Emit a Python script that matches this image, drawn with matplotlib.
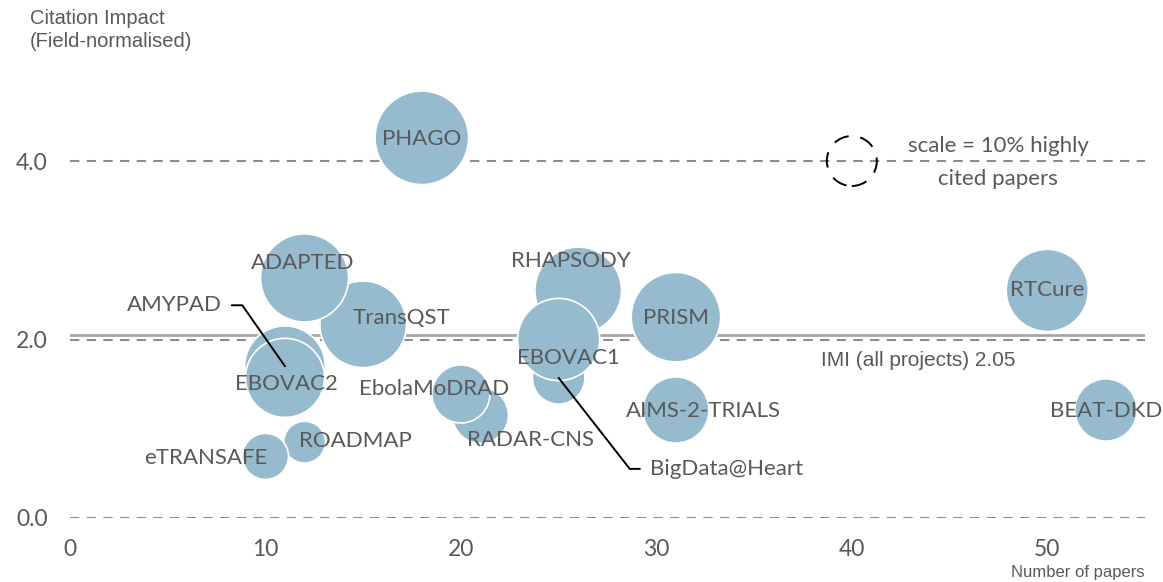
import numpy as np
import matplotlib
matplotlib.use('Agg')
import matplotlib.pyplot as plt

# projects in drawing order (later ones sit on top)
projects = ['TransQST', 'ADAPTED', 'AMYPAD', 'EBOVAC2', 'RADAR-CNS', 'EbolaMoDRAD',
            'RHAPSODY', 'BigData@Heart', 'EBOVAC1', 'ROADMAP', 'eTRANSAFE', 'PHAGO',
            'PRISM', 'AIMS-2-TRIALS', 'RTCure', 'BEAT-DKD']
papers = [15, 12, 11, 11, 21, 20, 26, 25, 25, 12, 10, 18, 31, 31, 50, 53]
impact = [2.17, 2.69, 1.70, 1.57, 1.15, 1.39, 2.55, 1.57, 2.00, 0.85, 0.69, 4.26,
          2.25, 1.21, 2.55, 1.21]
highly_cited = [30, 31, 26, 25, 12.5, 13.5, 30, 11, 27, 7, 8.5, 35, 32, 17.5, 27, 15.5]
imi_all = 2.05
scale_pct = 10

xticks = [0, 10, 20, 30, 40, 50]
yticks = [0.0, 2.0, 4.0]

# label offsets (pixels) from bubble centre
offsets = {'ADAPTED': (-2, 15), 'TransQST': (38, 6), 'EBOVAC2': (1, -6),
           'EbolaMoDRAD': (-27, 5), 'RADAR-CNS': (50, -25), 'ROADMAP': (51, 1),
           'eTRANSAFE': (-60, -2), 'RHAPSODY': (-7, 29), 'EBOVAC1': (10, -19),
           'AIMS-2-TRIALS': (28, -1), 'PHAGO': (0, -1), 'PRISM': (0, -1),
           'RTCure': (0, 0), 'BEAT-DKD': (0, -1)}

grey = '#595959'
bubble = '#97BBCE'
dpi = 100
r10 = 25  # radius in px of the 10% bubble


def size_of(pct):
    r = r10 * np.sqrt(np.asarray(pct, dtype=float) / scale_pct)
    return (2 * r * 72 / dpi) ** 2


fig = plt.figure(figsize=(11.63, 5.82), dpi=dpi)
ax = fig.add_axes([70/1163, 64/582, 1075/1163, 446.25/582])
ax.set_xlim(0, 55)
ax.set_ylim(0, 5)
for s in ax.spines.values():
    s.set_visible(False)

for yv in yticks:
    ax.axhline(yv, color='#8c8c8c', lw=1.5, ls=(0, (4.5, 3.5)), zorder=1)
ax.axhline(imi_all, color='#a6a6a6', lw=2, zorder=1)

ax.scatter(papers, impact, s=size_of(highly_cited), c=bubble, edgecolors='white',
           linewidths=1.2, zorder=2, clip_on=False)

# scale bubble
ax.scatter([40], [4.0], s=size_of([scale_pct]), facecolors='none', edgecolors='black',
           linewidths=1.4, linestyle=(0, (8, 6)), zorder=3, clip_on=False)
ax.text(47.5, 3.985, 'scale = 10% highly\ncited papers', ha='center', va='center',
        fontsize=16, family='Lato', color=grey, linespacing=1.8, zorder=4)

ax.text(43.4, 1.77, 'IMI (all projects) 2.05', ha='center', va='center',
        fontsize=15, family='Liberation Sans', color=grey)

for name, xv, yv in zip(projects, papers, impact):
    if name in offsets:
        ax.annotate(name, (xv, yv), xytext=offsets[name], textcoords='offset pixels',
                    ha='center', va='center', fontsize=16, family='Lato', color=grey,
                    zorder=5, annotation_clip=False)

i = projects.index('AMYPAD')
ax.annotate('AMYPAD', (papers[i], impact[i]), xytext=(-63, 61), textcoords='offset pixels',
            ha='right', va='center', fontsize=16, family='Lato', color=grey, zorder=5,
            arrowprops=dict(arrowstyle='-', color='black', lw=1.4, shrinkA=5, shrinkB=0,
                            connectionstyle='angle,angleA=0,angleB=125,rad=0'))
i = projects.index('BigData@Heart')
ax.annotate('BigData@Heart', (papers[i], impact[i]), xytext=(91, -91), textcoords='offset pixels',
            ha='left', va='center', fontsize=16, family='Lato', color=grey, zorder=5,
            arrowprops=dict(arrowstyle='-', color='black', lw=1.4, shrinkA=5, shrinkB=0,
                            connectionstyle='angle,angleA=0,angleB=-52,rad=0'))

ax.set_xticks(xticks)
ax.set_xticklabels([str(v) for v in xticks])
ax.set_yticks(yticks)
ax.set_yticklabels(['%.1f' % v for v in yticks])
ax.tick_params(length=0, labelsize=16.5, labelcolor=grey)
ax.tick_params(axis='y', pad=16)
ax.tick_params(axis='x', pad=15)
for lab in ax.get_xticklabels() + ax.get_yticklabels():
    lab.set_family('Lato')

fig.text(30/1163, 1 - 9/582, 'Citation Impact\n(Field-normalised)', ha='left', va='top',
         fontsize=14.5, family='Liberation Sans', color=grey, linespacing=1.25)
fig.text(1145/1163, 1 - 573/582, 'Number of papers', ha='right', va='center',
         fontsize=12, family='Liberation Sans', color=grey)

fig.savefig('out.png', dpi=dpi)
plt.close(fig)
